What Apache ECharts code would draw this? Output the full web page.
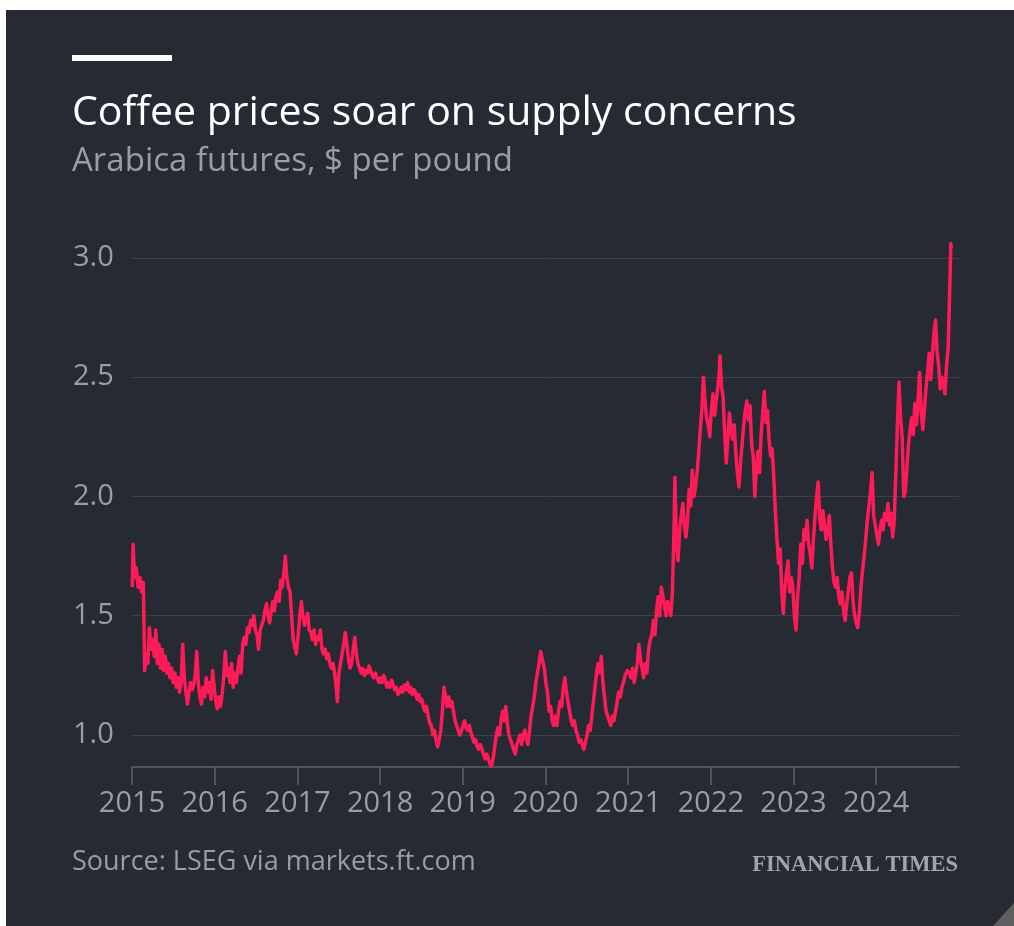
<!DOCTYPE html>
<html>
<head>
<meta charset="utf-8">
<title>Coffee prices soar on supply concerns</title>
<script src="https://cdn.jsdelivr.net/npm/echarts@6/dist/echarts.min.js"></script>
<style>
  html, body { margin: 0; padding: 0; background: #ffffff; }
  #panel { position: absolute; left: 6px; top: 10px; width: 1008px; height: 916px; background: #262a33; }
  #chart { position: absolute; left: 0; top: 0; width: 1014px; height: 926px; }
</style>
</head>
<body>
<div id="panel"></div>
<div id="chart"></div>
<script>
// Arabica coffee futures, weekly closes ($ per pound)
const dates = [
  '2015-01-02','2015-01-06','2015-01-12','2015-01-20','2015-01-28','2015-02-05','2015-02-12','2015-02-20','2015-02-26',
  '2015-03-05','2015-03-12','2015-03-19','2015-03-26','2015-04-02','2015-04-09','2015-04-16','2015-04-23','2015-04-30',
  '2015-05-07','2015-05-14','2015-05-21','2015-05-28','2015-06-04','2015-06-11','2015-06-18','2015-06-25','2015-07-02',
  '2015-07-09','2015-07-16','2015-07-23','2015-07-30','2015-08-06','2015-08-13','2015-08-20','2015-08-27','2015-09-03',
  '2015-09-10','2015-09-17','2015-09-24','2015-10-01','2015-10-08','2015-10-14','2015-10-21','2015-10-28','2015-11-04',
  '2015-11-11','2015-11-18','2015-11-25','2015-12-02','2015-12-09','2015-12-16','2015-12-23','2015-12-30',
  '2016-01-06','2016-01-13','2016-01-20','2016-01-27','2016-02-03','2016-02-10','2016-02-17','2016-02-24','2016-03-02',
  '2016-03-09','2016-03-16','2016-03-23','2016-03-30','2016-04-06','2016-04-13','2016-04-20','2016-04-27','2016-05-04',
  '2016-05-11','2016-05-18','2016-05-25','2016-06-01','2016-06-08','2016-06-15','2016-06-22','2016-06-29','2016-07-06',
  '2016-07-13','2016-07-20','2016-07-27','2016-08-03','2016-08-10','2016-08-17','2016-08-24','2016-08-31','2016-09-07',
  '2016-09-14','2016-09-21','2016-09-28','2016-10-05','2016-10-12','2016-10-19','2016-10-26','2016-11-02','2016-11-08',
  '2016-11-15','2016-11-22','2016-11-29','2016-12-06','2016-12-13','2016-12-20','2016-12-27',
  '2017-01-04','2017-01-11','2017-01-18','2017-01-25','2017-02-01','2017-02-08','2017-02-15','2017-02-22','2017-03-01',
  '2017-03-08','2017-03-15','2017-03-22','2017-03-29','2017-04-05','2017-04-12','2017-04-19','2017-04-26','2017-05-03',
  '2017-05-10','2017-05-17','2017-05-24','2017-05-31','2017-06-07','2017-06-14','2017-06-21','2017-06-26','2017-07-03',
  '2017-07-10','2017-07-17','2017-07-24','2017-07-31','2017-08-07','2017-08-14','2017-08-21','2017-08-28','2017-09-04',
  '2017-09-11','2017-09-18','2017-09-25','2017-10-02','2017-10-09','2017-10-16','2017-10-23','2017-10-30','2017-11-06',
  '2017-11-13','2017-11-20','2017-11-27','2017-12-04','2017-12-11','2017-12-18','2017-12-27',
  '2018-01-03','2018-01-10','2018-01-17','2018-01-24','2018-01-31','2018-02-07','2018-02-14','2018-02-21','2018-02-28',
  '2018-03-07','2018-03-14','2018-03-21','2018-03-28','2018-04-04','2018-04-11','2018-04-18','2018-04-25','2018-05-02',
  '2018-05-09','2018-05-16','2018-05-23','2018-05-30','2018-06-06','2018-06-13','2018-06-20','2018-06-27','2018-07-04',
  '2018-07-11','2018-07-18','2018-07-25','2018-08-01','2018-08-08','2018-08-15','2018-08-22','2018-08-29','2018-09-05',
  '2018-09-12','2018-09-19','2018-09-26','2018-10-03','2018-10-10','2018-10-17','2018-10-24','2018-10-31','2018-11-07',
  '2018-11-14','2018-11-21','2018-11-28','2018-12-05','2018-12-12','2018-12-19','2018-12-27',
  '2019-01-02','2019-01-09','2019-01-16','2019-01-23','2019-01-30','2019-02-06','2019-02-13','2019-02-20','2019-02-27',
  '2019-03-06','2019-03-13','2019-03-20','2019-03-27','2019-04-03','2019-04-10','2019-04-17','2019-04-24','2019-05-01',
  '2019-05-08','2019-05-15','2019-05-22','2019-05-29','2019-06-05','2019-06-12','2019-06-19','2019-06-26','2019-07-03',
  '2019-07-10','2019-07-17','2019-07-24','2019-07-31','2019-08-07','2019-08-14','2019-08-21','2019-08-28','2019-09-04',
  '2019-09-11','2019-09-18','2019-09-25','2019-10-02','2019-10-09','2019-10-16','2019-10-23','2019-10-30','2019-11-06',
  '2019-11-13','2019-11-20','2019-11-27','2019-12-04','2019-12-11','2019-12-18','2019-12-27',
  '2020-01-03','2020-01-10','2020-01-17','2020-01-24','2020-01-31','2020-02-07','2020-02-14','2020-02-21','2020-02-28',
  '2020-03-06','2020-03-13','2020-03-20','2020-03-27','2020-04-03','2020-04-10','2020-04-17','2020-04-24','2020-05-01',
  '2020-05-08','2020-05-15','2020-05-22','2020-05-29','2020-06-05','2020-06-12','2020-06-19','2020-06-26','2020-07-03',
  '2020-07-10','2020-07-17','2020-07-24','2020-07-31','2020-08-07','2020-08-14','2020-08-21','2020-08-28','2020-09-04',
  '2020-09-11','2020-09-18','2020-09-25','2020-10-02','2020-10-09','2020-10-16','2020-10-23','2020-10-30','2020-11-06',
  '2020-11-13','2020-11-20','2020-11-27','2020-12-04','2020-12-11','2020-12-18','2020-12-28',
  '2021-01-06','2021-01-13','2021-01-20','2021-01-27','2021-02-03','2021-02-10','2021-02-17','2021-02-24','2021-03-03',
  '2021-03-10','2021-03-17','2021-03-24','2021-04-01','2021-04-08','2021-04-15','2021-04-22','2021-04-29','2021-05-06',
  '2021-05-13','2021-05-20','2021-05-27','2021-06-03','2021-06-10','2021-06-17','2021-06-24','2021-07-01','2021-07-08',
  '2021-07-15','2021-07-22','2021-07-26','2021-08-02','2021-08-09','2021-08-16','2021-08-23','2021-08-30','2021-09-06',
  '2021-09-13','2021-09-20','2021-09-27','2021-10-04','2021-10-11','2021-10-18','2021-10-25','2021-11-01','2021-11-08',
  '2021-11-15','2021-11-22','2021-11-29','2021-12-06','2021-12-13','2021-12-20','2021-12-27',
  '2022-01-03','2022-01-10','2022-01-18','2022-01-24','2022-01-31','2022-02-07','2022-02-10','2022-02-17','2022-02-24',
  '2022-03-03','2022-03-10','2022-03-17','2022-03-24','2022-03-31','2022-04-07','2022-04-14','2022-04-21','2022-04-28',
  '2022-05-05','2022-05-12','2022-05-19','2022-05-26','2022-06-02','2022-06-09','2022-06-16','2022-06-23','2022-06-30',
  '2022-07-07','2022-07-14','2022-07-21','2022-07-28','2022-08-04','2022-08-11','2022-08-18','2022-08-25','2022-09-01',
  '2022-09-08','2022-09-15','2022-09-22','2022-09-29','2022-10-06','2022-10-13','2022-10-20','2022-10-27','2022-11-03',
  '2022-11-10','2022-11-17','2022-11-24','2022-12-01','2022-12-08','2022-12-15','2022-12-22','2022-12-29',
  '2023-01-05','2023-01-12','2023-01-19','2023-01-26','2023-02-02','2023-02-09','2023-02-16','2023-02-23','2023-03-02',
  '2023-03-09','2023-03-16','2023-03-23','2023-03-30','2023-04-06','2023-04-13','2023-04-20','2023-04-27','2023-05-04',
  '2023-05-11','2023-05-18','2023-05-25','2023-06-01','2023-06-08','2023-06-15','2023-06-22','2023-06-29','2023-07-06',
  '2023-07-13','2023-07-20','2023-07-27','2023-08-03','2023-08-10','2023-08-17','2023-08-24','2023-08-31','2023-09-07',
  '2023-09-14','2023-09-21','2023-09-28','2023-10-05','2023-10-12','2023-10-19','2023-10-26','2023-11-02','2023-11-09',
  '2023-11-16','2023-11-23','2023-11-30','2023-12-07','2023-12-14','2023-12-21','2023-12-28',
  '2024-01-04','2024-01-11','2024-01-18','2024-01-25','2024-02-01','2024-02-08','2024-02-15','2024-02-22','2024-02-29',
  '2024-03-07','2024-03-14','2024-03-21','2024-03-28','2024-04-04','2024-04-11','2024-04-18','2024-04-25','2024-05-02',
  '2024-05-09','2024-05-16','2024-05-23','2024-05-30','2024-06-06','2024-06-13','2024-06-20','2024-06-27','2024-07-04',
  '2024-07-11','2024-07-18','2024-07-25','2024-08-01','2024-08-08','2024-08-15','2024-08-22','2024-08-29','2024-09-05',
  '2024-09-12','2024-09-19','2024-09-26','2024-10-03','2024-10-10','2024-10-17','2024-10-24','2024-10-31','2024-11-07',
  '2024-11-14','2024-11-19','2024-11-26','2024-11-28'
];

const prices = [
  1.62,1.80,1.66,1.70,1.62,1.66,1.60,1.64,1.27,
  1.34,1.30,1.45,1.36,1.40,1.33,1.44,1.30,1.38,
  1.28,1.36,1.27,1.33,1.26,1.30,1.24,1.28,1.22,
  1.26,1.20,1.24,1.18,1.22,1.38,1.24,1.18,1.13,
  1.18,1.22,1.19,1.21,1.26,1.35,1.22,1.16,1.13,
  1.20,1.16,1.24,1.18,1.22,1.15,1.27,1.20,
  1.14,1.11,1.16,1.12,1.17,1.24,1.35,1.25,1.28,
  1.22,1.30,1.20,1.26,1.22,1.28,1.33,1.26,1.38,
  1.41,1.38,1.45,1.43,1.48,1.46,1.50,1.44,1.42,
  1.36,1.44,1.46,1.48,1.52,1.55,1.50,1.47,1.52,
  1.56,1.52,1.58,1.60,1.56,1.65,1.62,1.68,1.75,
  1.66,1.62,1.60,1.50,1.40,1.37,1.34,
  1.42,1.50,1.56,1.50,1.46,1.48,1.51,1.44,1.43,
  1.40,1.44,1.38,1.41,1.40,1.44,1.36,1.34,1.36,
  1.32,1.34,1.30,1.28,1.30,1.26,1.20,1.14,1.26,
  1.30,1.34,1.38,1.43,1.38,1.32,1.28,1.30,1.36,
  1.41,1.34,1.30,1.28,1.26,1.28,1.25,1.27,1.26,
  1.29,1.27,1.25,1.24,1.26,1.24,1.22,
  1.24,1.22,1.25,1.23,1.20,1.22,1.20,1.23,1.21,
  1.19,1.20,1.17,1.18,1.20,1.18,1.21,1.19,1.22,
  1.18,1.20,1.17,1.19,1.18,1.15,1.17,1.14,1.15,
  1.12,1.10,1.12,1.08,1.05,1.04,1.00,1.02,0.98,
  0.95,0.98,1.02,1.10,1.20,1.16,1.12,1.16,1.12,
  1.14,1.10,1.06,1.04,1.02,1.00,1.02,
  1.04,1.06,1.03,1.02,1.04,1.01,0.99,0.97,0.98,
  0.95,0.94,0.96,0.94,0.92,0.90,0.92,0.90,0.88,
  0.87,0.90,0.95,1.00,1.03,1.00,1.06,1.10,1.06,
  1.12,1.05,1.00,0.98,0.96,0.94,0.92,0.96,0.98,
  1.00,0.96,1.00,1.02,0.98,0.96,1.02,1.08,1.12,
  1.16,1.22,1.26,1.30,1.35,1.32,1.28,
  1.22,1.18,1.10,1.12,1.06,1.04,1.08,1.04,1.10,
  1.14,1.12,1.20,1.24,1.18,1.14,1.10,1.06,1.04,
  1.06,1.02,1.00,0.97,0.98,0.96,0.94,0.97,1.00,
  1.04,1.02,1.08,1.14,1.20,1.26,1.30,1.26,1.33,
  1.22,1.16,1.10,1.08,1.06,1.04,1.08,1.06,1.10,
  1.14,1.18,1.16,1.20,1.22,1.25,1.27,
  1.26,1.24,1.28,1.22,1.26,1.30,1.38,1.32,1.28,
  1.24,1.30,1.26,1.36,1.40,1.42,1.48,1.42,1.52,
  1.58,1.50,1.62,1.58,1.54,1.50,1.56,1.54,1.50,
  1.60,1.85,2.08,1.80,1.73,1.86,1.92,1.97,1.88,
  1.83,1.90,2.03,1.96,2.11,2.00,2.04,2.10,2.18,
  2.28,2.36,2.50,2.40,2.33,2.30,2.25,
  2.36,2.43,2.34,2.40,2.45,2.52,2.59,2.46,2.42,
  2.26,2.14,2.24,2.35,2.28,2.24,2.30,2.18,2.10,
  2.04,2.14,2.22,2.30,2.36,2.40,2.32,2.38,2.22,
  2.17,2.00,2.12,2.19,2.10,2.26,2.35,2.44,2.31,
  2.36,2.24,2.17,2.20,2.08,1.93,1.82,1.72,1.78,
  1.60,1.51,1.62,1.68,1.73,1.60,1.66,1.62,
  1.50,1.44,1.58,1.66,1.80,1.72,1.86,1.82,1.90,
  1.80,1.76,1.70,1.82,1.92,2.00,2.06,1.90,1.86,
  1.94,1.88,1.82,1.86,1.92,1.80,1.70,1.64,1.62,
  1.66,1.58,1.55,1.60,1.52,1.48,1.55,1.60,1.66,
  1.68,1.56,1.50,1.47,1.45,1.52,1.62,1.69,1.75,
  1.82,1.90,1.96,2.02,2.10,1.92,1.88,
  1.84,1.80,1.86,1.90,1.86,1.93,1.90,1.97,1.88,
  1.93,1.83,1.90,2.10,2.30,2.48,2.33,2.25,2.00,
  2.02,2.12,2.22,2.28,2.33,2.26,2.39,2.30,2.40,
  2.52,2.35,2.28,2.36,2.45,2.52,2.60,2.49,2.58,
  2.68,2.74,2.61,2.55,2.45,2.50,2.48,2.43,2.55,
  2.62,2.79,3.06,3.04
];

const yearLabels = ['2015','2016','2017','2018','2019','2020','2021','2022','2023','2024'];

const titleText = 'Coffee prices soar on supply concerns';
const subtitleText = 'Arabica futures, $ per pound';
const sourceText = 'Source: LSEG via markets.ft.com';
const brandText = 'FINANCIAL TIMES';

// Dates become millisecond timestamps on a plain value axis
function toTime(s) {
  const p = s.split('-').map(Number);
  return Date.UTC(p[0], p[1] - 1, p[2]);
}
const yearTicks = yearLabels.map(y => Date.UTC(Number(y), 0, 1));
const seriesData = dates.map((d, i) => [toTime(d), prices[i]]);

const chart = echarts.init(document.getElementById('chart'), null, { renderer: 'canvas' });

const labelColor = '#9b9da3';
const sansFont = '"Open Sans", "Noto Sans", sans-serif';

chart.setOption({
  animation: false,
  backgroundColor: 'transparent',
  grid: { left: 132, right: 55, top: 234, bottom: 159, containLabel: false },
  xAxis: {
    type: 'value',
    min: Date.UTC(2015, 0, 1),
    max: Date.UTC(2025, 0, 1),
    axisLine: { show: true, lineStyle: { color: '#5d6169', width: 1.5 } },
    axisTick: { show: true, length: 18, customValues: yearTicks, lineStyle: { color: '#5d6169', width: 1.5 } },
    axisLabel: {
      customValues: yearTicks,
      formatter: v => String(new Date(v).getUTCFullYear()),
      color: labelColor, fontFamily: sansFont, fontSize: 29, margin: 22
    },
    splitLine: { show: false }
  },
  yAxis: {
    type: 'value',
    min: 0.866,
    max: 3.1,
    splitNumber: 5,
    axisLine: { show: false },
    axisTick: { show: false },
    axisLabel: {
      showMinLabel: false, showMaxLabel: false,
      formatter: v => v.toFixed(1),
      color: labelColor, fontFamily: sansFont, fontSize: 29,
      align: 'left', margin: 59
    },
    splitLine: { show: true, showMinLine: false, showMaxLine: false, lineStyle: { color: '#3c4049', width: 1 } }
  },
  series: [{
    type: 'line',
    data: seriesData,
    showSymbol: false,
    symbol: 'none',
    lineStyle: { color: '#ff1a58', width: 3.5, join: 'round' },
    z: 3
  }],
  graphic: [
    { type: 'rect', shape: { x: 72, y: 55, width: 100, height: 6 }, style: { fill: '#ffffff' } },
    { type: 'text', x: 72, y: 113, style: { text: titleText, fill: '#ffffff', font: '41px ' + sansFont, textVerticalAlign: 'middle' } },
    { type: 'text', x: 72, y: 162, style: { text: subtitleText, fill: labelColor, font: '33px ' + sansFont, textVerticalAlign: 'middle' } },
    { type: 'text', x: 72, y: 862, style: { text: sourceText, fill: labelColor, font: '27px ' + sansFont, textVerticalAlign: 'middle' } },
    { type: 'text', x: 958, y: 865, style: { text: brandText, fill: '#a3a4a8', font: 'bold 22.5px "Liberation Serif", "DejaVu Serif", serif', textAlign: 'right', textVerticalAlign: 'middle' } },
    { type: 'polygon', shape: { points: [[993, 926], [1014, 903], [1014, 926]] }, style: { fill: '#5f5f61' } }
  ]
});
</script>
</body>
</html>
